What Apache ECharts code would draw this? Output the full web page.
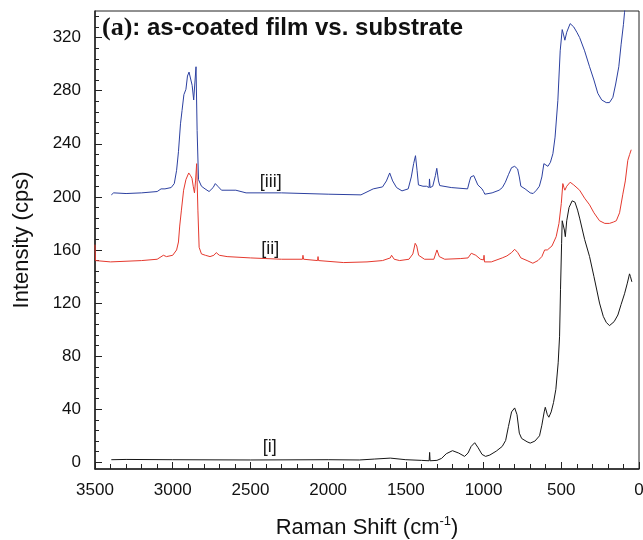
<!DOCTYPE html>
<html>
<head>
<meta charset="utf-8">
<script src="https://cdn.jsdelivr.net/npm/echarts@6/dist/echarts.min.js"></script>
<style>
  html, body { margin: 0; padding: 0; background: #fff; }
  #chart { width: 643px; height: 540px; }
</style>
</head>
<body>
<div id="chart"></div>
<script>
// spectra: [Raman shift (cm-1), intensity (cps)]
var substrate = [
  [3395, 2], [3300, 2.2], [3295, 3], [3290, 2], [3000, 2], [2500, 1.8], [2000, 2], [1800, 1.8],
  [1700, 2.5], [1600, 3.2], [1500, 2], [1400, 1.5], [1350, 1.2], [1347, 7.5], [1344, 1.2], [1300, 1.5],
  [1270, 3], [1240, 6.5], [1200, 8.8], [1160, 7], [1122, 4.5], [1100, 7], [1080, 12], [1057, 14.8],
  [1035, 11], [1010, 6], [987, 4.5], [960, 5.5], [918, 8.5], [880, 12], [858, 16.5], [840, 27],
  [820, 38], [800, 41], [785, 36], [770, 22], [755, 18], [720, 15.5], [700, 14.5], [670, 16],
  [640, 20], [625, 28], [610, 38], [603, 41.5], [590, 36], [580, 34], [565, 38], [550, 45],
  [535, 55], [520, 75], [511, 95], [505, 130], [498, 165], [494, 182], [488, 183], [480, 175],
  [474, 170], [465, 182], [450, 192], [430, 197], [412, 196], [395, 190], [382, 184], [350, 168],
  [318, 155], [290, 140], [254, 120], [230, 110], [211, 105.5], [190, 103], [179, 103], [160, 106],
  [136, 111], [115, 119], [93, 127], [75, 135], [61, 142], [55, 140], [46, 136]
];
var filmII = [
  [3500, 164], [3497, 152], [3400, 151], [3200, 152], [3100, 153], [3060, 156], [3040, 155], [3000, 156],
  [2975, 160], [2963, 166], [2955, 178], [2944, 190], [2930, 205], [2915, 213], [2897, 218], [2885, 216],
  [2876, 214], [2868, 208], [2860, 203], [2853, 212], [2846, 225], [2838, 190], [2830, 162], [2815, 157],
  [2790, 156], [2760, 155], [2735, 156], [2720, 158], [2700, 156], [2650, 155], [2500, 154], [2300, 153],
  [2165, 153], [2162, 156], [2158, 153], [2068, 152], [2065, 155], [2062, 152], [1900, 150.5], [1750, 151],
  [1650, 152], [1600, 154], [1592, 156], [1575, 153], [1540, 152], [1480, 153], [1455, 157], [1440, 165],
  [1430, 163], [1418, 156], [1380, 153], [1320, 153], [1300, 160], [1285, 155], [1250, 153], [1150, 153.5],
  [1100, 154], [1079, 157.5], [1050, 156], [1020, 153], [1000, 152.5], [997, 156], [994, 151], [950, 151],
  [880, 154], [850, 155.5], [820, 158], [800, 160.5], [780, 158], [760, 154], [720, 152], [683, 150],
  [650, 152], [625, 155], [607, 160], [590, 160], [560, 163], [533, 170], [515, 180], [500, 195],
  [490, 210], [483, 207], [477, 205], [465, 208], [443, 211], [420, 209], [382, 205], [350, 199],
  [318, 194], [290, 188], [254, 182], [220, 180], [190, 180], [165, 181], [146, 182], [125, 188],
  [104, 202], [88, 212], [72, 227.5], [60, 232], [50, 235.5]
];
var filmIII = [
  [3395, 201.5], [3380, 203], [3300, 202.5], [3200, 203], [3100, 204], [3075, 206], [3050, 206], [3010, 207],
  [2990, 210], [2975, 220], [2963, 234], [2950, 255], [2940, 265], [2928, 277], [2915, 281], [2905, 291],
  [2895, 294], [2885, 293], [2875, 284], [2865, 273], [2858, 285], [2850, 298], [2843, 250], [2834, 213],
  [2815, 208], [2792, 206], [2766, 204], [2740, 207], [2726, 210], [2710, 208], [2686, 205], [2594, 205],
  [2528, 203], [2300, 203], [2000, 202], [1789, 201.5], [1710, 206], [1650, 207.5], [1625, 212], [1604, 218],
  [1585, 212], [1560, 207], [1525, 204.5], [1485, 206], [1465, 215], [1450, 225], [1438, 231], [1428, 220],
  [1419, 209], [1390, 208], [1367, 208], [1350, 207], [1348, 213.5], [1344, 207], [1327, 208], [1310, 216],
  [1301, 221.5], [1290, 212], [1282, 208.5], [1208, 207], [1103, 206], [1090, 212], [1082, 215], [1063, 216],
  [1037, 209], [1010, 206], [1000, 204], [992, 202], [945, 203], [900, 205], [879, 207], [860, 211],
  [839, 217], [820, 222], [800, 223], [781, 221], [770, 215], [760, 208], [733, 206], [700, 203],
  [681, 202.5], [660, 205], [641, 208], [625, 215], [612, 225], [600, 224], [586, 223], [570, 226],
  [554, 232.5], [540, 245], [522, 272.7], [507, 310], [494, 326], [485, 322], [477, 318], [465, 324],
  [443, 330.5], [420, 328], [400, 324], [382, 320], [350, 310], [318, 298], [290, 288], [265, 278],
  [240, 273], [211, 271], [190, 271], [168, 275], [150, 285], [130, 298], [115, 315], [100, 330],
  [93, 339], [85, 352]
];

var curveNames = ['[i]', '[ii]', '[iii]'];
var curveLabelAt = [[2375, 11.6], [2372, 160.7], [2369, 211]];
var yMajor = [0, 40, 80, 120, 160, 200, 240, 280, 320];
var yMinor = [];
for (var v = 0; v <= 336; v += 8) { if (v % 40 !== 0) yMinor.push(v); }

var font = "'Liberation Sans', Arial, sans-serif";
var colors = ['#161616', '#e5392e', '#2c40a0'];
var gridLeft = 95, gridRight = 4;

var chart = echarts.init(document.getElementById('chart'));

function spectrum(i, data) {
  return {
    name: curveNames[i],
    type: 'line',
    data: data,
    showSymbol: false,
    symbol: 'none',
    clip: true,
    lineStyle: { width: 1, color: colors[i] },
    markPoint: {
      symbol: 'rect',
      symbolSize: 0,
      data: [{ coord: curveLabelAt[i], value: curveNames[i] }],
      label: { show: true, formatter: curveNames[i], color: '#1a1a1a', fontSize: 18, fontFamily: font }
    }
  };
}

var option = {
  animation: false,
  backgroundColor: '#fff',
  title: {
    left: 97,
    top: 10,
    text: '{a|(a)}{b|: as-coated film vs. substrate}',
    textStyle: {
      rich: {
        a: { fontFamily: "'Liberation Serif', 'Times New Roman', serif", fontWeight: 'bold', fontSize: 26, color: '#111' },
        b: { fontFamily: font, fontWeight: 'bold', fontSize: 24, color: '#111' }
      }
    }
  },
  grid: {
    left: gridLeft, right: gridRight, top: 11, bottom: 71,
    containLabel: false,
    outerBoundsMode: 'none',
    show: true, borderColor: '#222', borderWidth: 1
  },
  xAxis: {
    type: 'value',
    inverse: true,
    min: 0, max: 3500, interval: 500,
    name: 'Raman Shift (cm{sup|-1})',
    nameLocation: 'middle',
    nameGap: 46,
    nameTextStyle: {
      fontFamily: font, fontSize: 22, color: '#111',
      rich: { sup: { fontFamily: font, fontSize: 13, color: '#111', verticalAlign: 'top', padding: [0, 0, 12, 0] } }
    },
    axisLine: { onZero: false, lineStyle: { color: '#222', width: 1.5 } },
    axisTick: { inside: true, length: 7, lineStyle: { color: '#222' } },
    minorTick: { show: true, splitNumber: 5, length: 5, lineStyle: { color: '#222' } },
    splitLine: { show: false },
    axisLabel: { color: '#111', fontSize: 17, fontFamily: font, margin: 13, formatter: function (val) { return String(val); } }
  },
  yAxis: [{
    type: 'value',
    min: -5, max: 340,
    position: 'left',
    name: 'Intensity (cps)',
    nameLocation: 'middle',
    nameGap: 62,
    nameTextStyle: { fontFamily: font, fontSize: 22, color: '#111' },
    axisLine: { show: true, onZero: false, lineStyle: { color: '#222', width: 1.5 } },
    axisTick: { show: true, inside: true, length: 7, customValues: yMajor, lineStyle: { color: '#222' } },
    axisLabel: { color: '#111', fontSize: 17, fontFamily: font, margin: 14, customValues: yMajor },
    splitLine: { show: false }
  }, {
    // minor ticks only; sits on the right slot, shifted back onto the left edge
    type: 'value',
    min: -5, max: 340,
    position: 'right',
    offset: -(643 - gridLeft - gridRight),
    axisLine: { show: false, onZero: false },
    axisTick: { show: true, inside: false, length: 4, customValues: yMinor, lineStyle: { color: '#222' } },
    axisLabel: { show: false },
    splitLine: { show: false }
  }],
  series: [spectrum(0, substrate), spectrum(1, filmII), spectrum(2, filmIII)]
};

chart.setOption(option);
</script>
</body>
</html>
